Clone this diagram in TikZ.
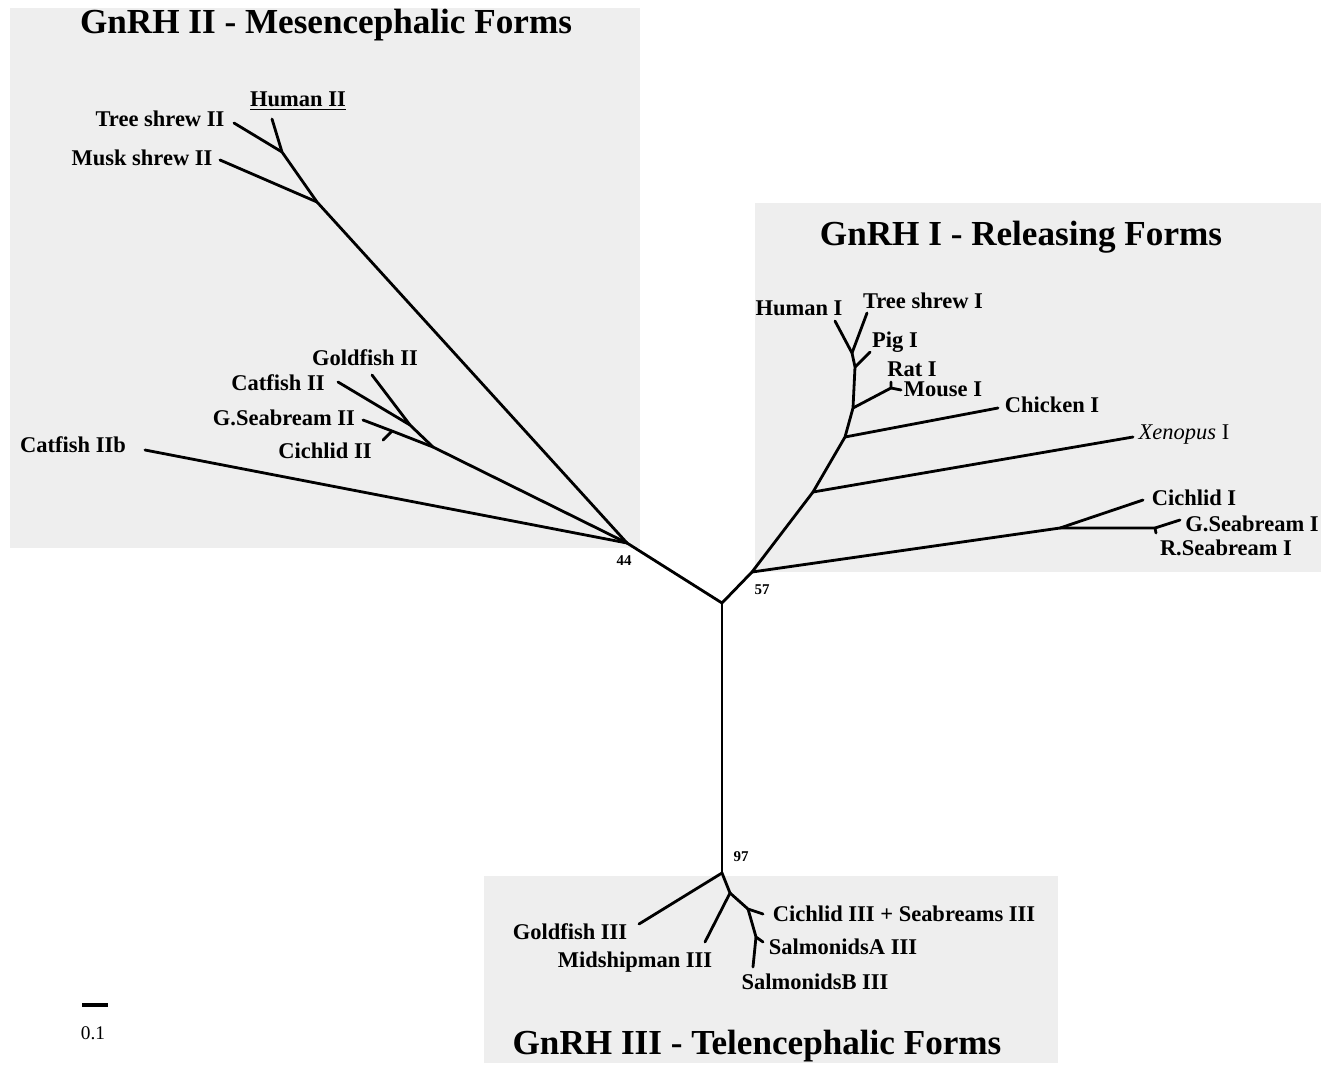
\documentclass[tikz,border=0pt]{standalone}
\usepackage{fontspec}
\setmainfont{Liberation Serif}
\definecolor{panelgrey}{HTML}{EEEEEE}
\begin{document}
\begin{tikzpicture}[x=0.02cm, y=-0.02cm,
    leaf/.style={font=\bfseries\fontsize{12.8}{14}\selectfont, inner sep=0pt},
    grouptitle/.style={font=\bfseries\fontsize{20}{24}\selectfont, inner sep=0pt},
    support/.style={font=\bfseries\fontsize{8.5}{10}\selectfont, inner sep=0pt}]

\useasboundingbox (0, 0) rectangle (1325, 1065);

% boxes
\begin{scope}[fill=panelgrey]
    \fill (10, 8) rectangle (640, 548);
    \fill (755, 203) rectangle (1321, 572);
    \fill (484, 876) rectangle (1058, 1063);
\end{scope}


% coordinates
\coordinate (root) at (722, 603);
\coordinate (n44) at (627, 543);
\coordinate (n57) at (752, 572);
\coordinate (n97) at (722, 873);

% mesencephalic
\coordinate (muskJ) at (317, 202);
\coordinate (humIIJ) at (282, 152);
\coordinate (humIIT) at (272, 119);
\coordinate (tsIIT) at (234, 123);
\coordinate (muskIIT) at (220, 160);
\coordinate (cfIIbT) at (145, 450);
\coordinate (fishA) at (433, 447);
\coordinate (fishB) at (410, 425);
\coordinate (gfIIT) at (372, 375);
\coordinate (cfIIT) at (338, 382);
\coordinate (sbIIJ) at (392, 431);
\coordinate (sbIIT) at (363, 420);
\coordinate (chIIT) at (383, 440);

% releasing
\coordinate (xenJ) at (813, 492);
\coordinate (chkJ) at (845, 437);
\coordinate (mouJ) at (853, 408);
\coordinate (pigJ) at (855, 367);
\coordinate (humIJ) at (852, 353);
\coordinate (humIT) at (835, 321);
\coordinate (tsIT) at (867, 313);
\coordinate (pigIT) at (870, 352);
\coordinate (rmJ) at (891, 388);
\coordinate (ratIT) at (891, 382);
\coordinate (mouIT) at (901, 390);
\coordinate (chkIT) at (998, 408);
\coordinate (xenIT) at (1133, 437);
\coordinate (teleoJ) at (1060, 528);
\coordinate (chIT) at (1143, 500);
\coordinate (sbrJ) at (1155, 528);
\coordinate (gsbIT) at (1180, 520);
\coordinate (rsbIT) at (1156, 533);

% telencephalic
\coordinate (gfIIIT) at (639, 924);
\coordinate (midJ) at (730, 893);
\coordinate (midIIIT) at (705, 942);
\coordinate (csJ) at (748, 909);
\coordinate (csIIIT) at (763, 914);
\coordinate (salJ) at (756, 937);
\coordinate (saIIIT) at (763, 942);
\coordinate (sbIIIT) at (753, 967);


% graph
\begin{scope}[line width=1.6pt, line cap=round, line join=round]
    \draw (n44) -- (root) -- (n57);
    \draw (root) -- (n97);

    \draw (n44) -- (muskJ) -- (humIIJ) -- (humIIT);
    \draw (humIIJ) -- (tsIIT);
    \draw (muskJ) -- (muskIIT);
    \draw (n44) -- (cfIIbT);
    \draw (n44) -- (fishA) -- (fishB) -- (gfIIT);
    \draw (fishB) -- (cfIIT);
    \draw (fishA) -- (sbIIJ) -- (sbIIT);
    \draw (sbIIJ) -- (chIIT);

    \draw (n57) -- (xenJ) -- (chkJ) -- (mouJ) -- (pigJ) -- (humIJ) -- (humIT);
    \draw (humIJ) -- (tsIT);
    \draw (pigJ) -- (pigIT);
    \draw (mouJ) -- (rmJ) -- (ratIT);
    \draw (rmJ) -- (mouIT);
    \draw (chkJ) -- (chkIT);
    \draw (xenJ) -- (xenIT);
    \draw (n57) -- (teleoJ) -- (chIT);
    \draw (teleoJ) -- (sbrJ) -- (gsbIT);
    \draw (sbrJ) -- (rsbIT);

    \draw (n97) -- (gfIIIT);
    \draw (n97) -- (midJ) -- (midIIIT);
    \draw (midJ) -- (csJ) -- (csIIIT);
    \draw (csJ) -- (salJ) -- (saIIIT);
    \draw (salJ) -- (sbIIIT);
\end{scope}


% titles
\node [grouptitle] (titleII) at (326, 25) {GnRH II - Mesencephalic Forms};
\node [grouptitle] (titleI) at (1021, 237) {GnRH I - Releasing Forms};
\node [grouptitle] (titleIII) at (757, 1046) {GnRH III - Telencephalic Forms};

% leaves
\node [leaf] (humII) at (298, 101) {\underline{Human II}};
\node [leaf] (tsII) at (160, 119) {Tree shrew II};
\node [leaf] (muskII) at (142, 158) {Musk shrew II};
\node [leaf] (gfII) at (365, 358) {Goldfish II};
\node [leaf] (cfII) at (278, 383) {Catfish II};
\node [leaf] (sbII) at (284, 418) {G.Seabream II};
\node [leaf] (chII) at (325, 451) {Cichlid II};
\node [leaf] (cfIIb) at (73, 445) {Catfish IIb};

\node [leaf] (humI) at (799, 308) {Human I};
\node [leaf] (tsI) at (923, 301) {Tree shrew I};
\node [leaf] (pigI) at (895, 342) {Pig I};
\node [leaf] (ratI) at (912, 369) {Rat I};
\node [leaf] (mouI) at (943, 389) {Mouse I};
\node [leaf] (chkI) at (1052, 405) {Chicken I};
\node [leaf, font=\mdseries\fontsize{12.8}{14}\selectfont] (xenI) at (1184, 435) {\textit{Xenopus} I};
\node [leaf] (chI) at (1194, 498) {Cichlid I};
\node [leaf] (gsbI) at (1252, 524) {G.Seabream I};
\node [leaf] (rsbI) at (1226, 548) {R.Seabream I};

\node [leaf] (gfIII) at (570, 932) {Goldfish III};
\node [leaf] (midIII) at (635, 962) {Midshipman III};
\node [leaf] (csIII) at (904, 914) {Cichlid III + Seabreams III};
\node [leaf] (saIII) at (843, 947) {SalmonidsA III};
\node [leaf] (sbIII) at (815, 982) {SalmonidsB III};

% support values
\node [support] (s44) at (624, 561) {44};
\node [support] (s57) at (762, 590) {57};
\node [support] (s97) at (741, 857) {97};

% scale
\coordinate (barL) at (82, 1005);
\coordinate (barR) at (108, 1005);
\draw [line width=2.4pt] (barL) -- (barR);
\node [font=\fontsize{11}{12}\selectfont, inner sep=0pt] (scale) at (93, 1033) {0.1};

\end{tikzpicture}
\end{document}
